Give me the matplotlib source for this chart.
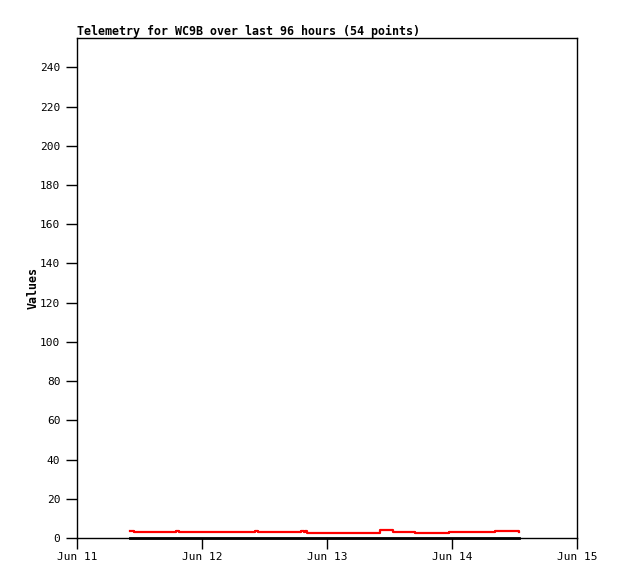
import matplotlib
matplotlib.use("Agg")
import matplotlib.pyplot as plt
import matplotlib.dates as mdates
from datetime import datetime, timedelta

# Data: hours since Jun 11 00:00, values
red_hours = [10.2, 10.8, 10.9, 19.0, 19.5, 34.2, 34.7, 43.0, 43.5, 43.7, 44.2,
             58.2, 60.7, 64.9, 71.4, 80.3, 84.7, 84.9]
red_vals = [3.4, 3.4, 2.9, 3.4, 2.9, 3.4, 2.9, 3.5, 3.2, 3.5, 2.8,
            3.9, 3.3, 2.7, 3.1, 3.8, 3.8, 3.0]
black_hours = [10.2, 84.9]
black_vals = [0.0, 0.0]

title = "Telemetry for WC9B over last 96 hours (54 points)"
ylabel = "Values"
yticks = list(range(0, 241, 20))

base = datetime(2024, 6, 11)
red_t = [base + timedelta(hours=h) for h in red_hours]
black_t = [base + timedelta(hours=h) for h in black_hours]

mono = "DejaVu Sans Mono"
fig = plt.figure(figsize=(6.18, 5.79), dpi=100)
ax = fig.add_axes([77/618, (579-538)/579, 500/618, 500/579])

ax.step(red_t, red_vals, where="post", color="#ff0000", lw=1.6, clip_on=False, zorder=3)
ax.plot(black_t, black_vals, color="black", lw=2.0, clip_on=False, zorder=4)

ax.set_xlim(base, base + timedelta(days=4))
ax.set_ylim(0, 255)
ax.set_yticks(yticks)
ax.xaxis.set_major_locator(mdates.DayLocator())
ax.xaxis.set_major_formatter(mdates.DateFormatter("%b %d"))
ax.tick_params(direction="out", length=8, width=1, labelsize=8, pad=4,
               top=False, right=False)
ax.tick_params(axis="x", pad=2)
for lab in ax.get_xticklabels() + ax.get_yticklabels():
    lab.set_fontfamily(mono)
for s in ax.spines.values():
    s.set_linewidth(1)

ax.set_ylabel(ylabel, fontfamily=mono, fontweight="bold", fontsize=8.4, labelpad=0)
fig.text(77/618, 1 - 31/579, title, fontfamily=mono, fontweight="bold",
         fontsize=8.4, ha="left", va="center")

fig.savefig("out.png", dpi=100)
